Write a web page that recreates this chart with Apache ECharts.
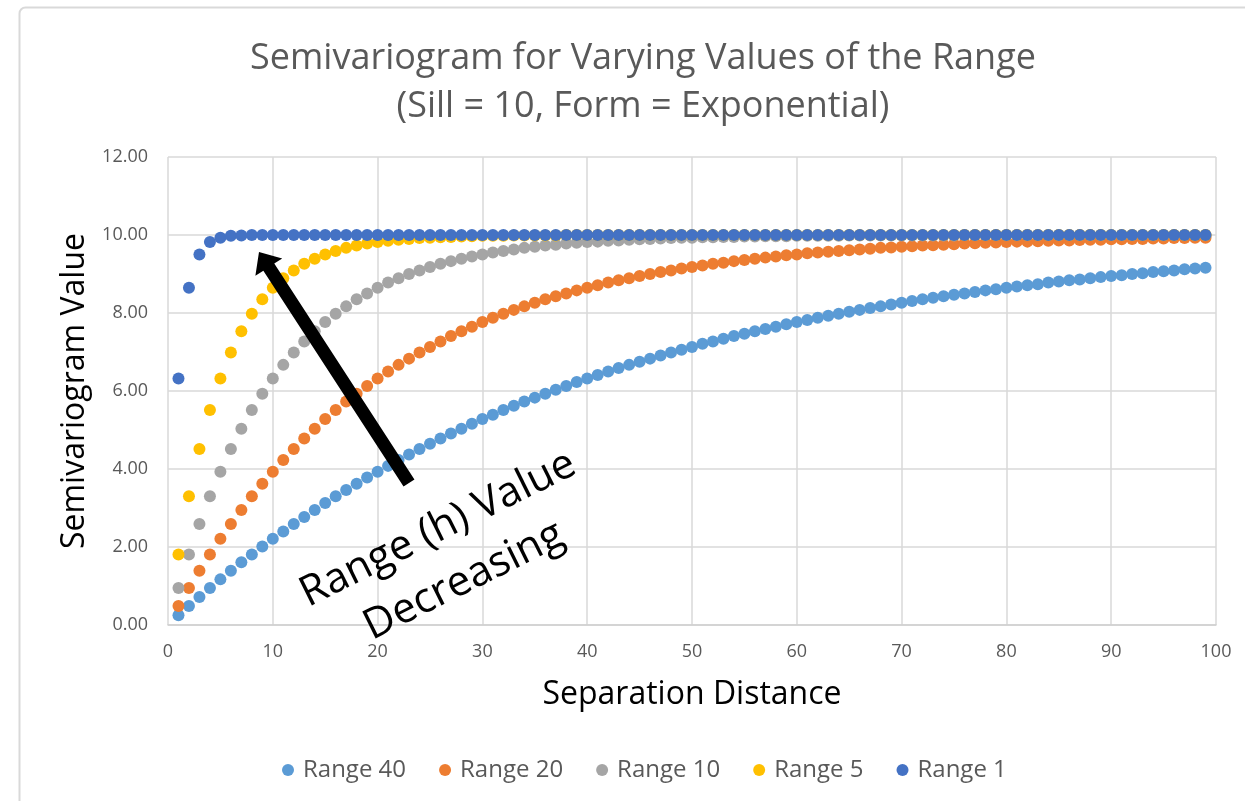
<!DOCTYPE html>
<html>
<head>
<meta charset="utf-8">
<script src="https://cdn.jsdelivr.net/npm/echarts@6/dist/echarts.min.js"></script>
<style>
  html, body { margin: 0; padding: 0; background: #fff; }
  #chart { width: 1245px; height: 801px; }
</style>
</head>
<body>
<div id="chart"></div>
<script>
// separation distance (h)
const distance = [
  1, 2, 3, 4, 5, 6, 7, 8, 9, 10,
  11, 12, 13, 14, 15, 16, 17, 18, 19, 20,
  21, 22, 23, 24, 25, 26, 27, 28, 29, 30,
  31, 32, 33, 34, 35, 36, 37, 38, 39, 40,
  41, 42, 43, 44, 45, 46, 47, 48, 49, 50,
  51, 52, 53, 54, 55, 56, 57, 58, 59, 60,
  61, 62, 63, 64, 65, 66, 67, 68, 69, 70,
  71, 72, 73, 74, 75, 76, 77, 78, 79, 80,
  81, 82, 83, 84, 85, 86, 87, 88, 89, 90,
  91, 92, 93, 94, 95, 96, 97, 98, 99,
]

const range40 = [
  0.25, 0.49, 0.72, 0.95, 1.17, 1.39, 1.61, 1.81, 2.01, 2.21,
  2.40, 2.59, 2.77, 2.95, 3.13, 3.30, 3.46, 3.62, 3.78, 3.93,
  4.08, 4.23, 4.37, 4.51, 4.65, 4.78, 4.91, 5.03, 5.16, 5.28,
  5.39, 5.51, 5.62, 5.73, 5.83, 5.93, 6.03, 6.13, 6.23, 6.32,
  6.41, 6.50, 6.59, 6.67, 6.75, 6.83, 6.91, 6.99, 7.06, 7.13,
  7.21, 7.27, 7.34, 7.41, 7.47, 7.53, 7.59, 7.65, 7.71, 7.77,
  7.82, 7.88, 7.93, 7.98, 8.03, 8.08, 8.13, 8.17, 8.22, 8.26,
  8.31, 8.35, 8.39, 8.43, 8.47, 8.50, 8.54, 8.58, 8.61, 8.65,
  8.68, 8.71, 8.74, 8.78, 8.81, 8.84, 8.86, 8.89, 8.92, 8.95,
  8.97, 9.00, 9.02, 9.05, 9.07, 9.09, 9.12, 9.14, 9.16,
]

const range20 = [
  0.49, 0.95, 1.39, 1.81, 2.21, 2.59, 2.95, 3.30, 3.62, 3.93,
  4.23, 4.51, 4.78, 5.03, 5.28, 5.51, 5.73, 5.93, 6.13, 6.32,
  6.50, 6.67, 6.83, 6.99, 7.13, 7.27, 7.41, 7.53, 7.65, 7.77,
  7.88, 7.98, 8.08, 8.17, 8.26, 8.35, 8.43, 8.50, 8.58, 8.65,
  8.71, 8.78, 8.84, 8.89, 8.95, 9.00, 9.05, 9.09, 9.14, 9.18,
  9.22, 9.26, 9.29, 9.33, 9.36, 9.39, 9.42, 9.45, 9.48, 9.50,
  9.53, 9.55, 9.57, 9.59, 9.61, 9.63, 9.65, 9.67, 9.68, 9.70,
  9.71, 9.73, 9.74, 9.75, 9.76, 9.78, 9.79, 9.80, 9.81, 9.82,
  9.83, 9.83, 9.84, 9.85, 9.86, 9.86, 9.87, 9.88, 9.88, 9.89,
  9.89, 9.90, 9.90, 9.91, 9.91, 9.92, 9.92, 9.93, 9.93,
]

const range10 = [
  0.95, 1.81, 2.59, 3.30, 3.93, 4.51, 5.03, 5.51, 5.93, 6.32,
  6.67, 6.99, 7.27, 7.53, 7.77, 7.98, 8.17, 8.35, 8.50, 8.65,
  8.78, 8.89, 9.00, 9.09, 9.18, 9.26, 9.33, 9.39, 9.45, 9.50,
  9.55, 9.59, 9.63, 9.67, 9.70, 9.73, 9.75, 9.78, 9.80, 9.82,
  9.83, 9.85, 9.86, 9.88, 9.89, 9.90, 9.91, 9.92, 9.93, 9.93,
  9.94, 9.94, 9.95, 9.95, 9.96, 9.96, 9.97, 9.97, 9.97, 9.98,
  9.98, 9.98, 9.98, 9.98, 9.99, 9.99, 9.99, 9.99, 9.99, 9.99,
  9.99, 9.99, 9.99, 9.99, 9.99, 10.00, 10.00, 10.00, 10.00, 10.00,
  10.00, 10.00, 10.00, 10.00, 10.00, 10.00, 10.00, 10.00, 10.00, 10.00,
  10.00, 10.00, 10.00, 10.00, 10.00, 10.00, 10.00, 10.00, 10.00,
]

const range5 = [
  1.81, 3.30, 4.51, 5.51, 6.32, 6.99, 7.53, 7.98, 8.35, 8.65,
  8.89, 9.09, 9.26, 9.39, 9.50, 9.59, 9.67, 9.73, 9.78, 9.82,
  9.85, 9.88, 9.90, 9.92, 9.93, 9.94, 9.95, 9.96, 9.97, 9.98,
  9.98, 9.98, 9.99, 9.99, 9.99, 9.99, 9.99, 10.00, 10.00, 10.00,
  10.00, 10.00, 10.00, 10.00, 10.00, 10.00, 10.00, 10.00, 10.00, 10.00,
  10.00, 10.00, 10.00, 10.00, 10.00, 10.00, 10.00, 10.00, 10.00, 10.00,
  10.00, 10.00, 10.00, 10.00, 10.00, 10.00, 10.00, 10.00, 10.00, 10.00,
  10.00, 10.00, 10.00, 10.00, 10.00, 10.00, 10.00, 10.00, 10.00, 10.00,
  10.00, 10.00, 10.00, 10.00, 10.00, 10.00, 10.00, 10.00, 10.00, 10.00,
  10.00, 10.00, 10.00, 10.00, 10.00, 10.00, 10.00, 10.00, 10.00,
]

const range1 = [
  6.32, 8.65, 9.50, 9.82, 9.93, 9.98, 9.99, 10.00, 10.00, 10.00,
  10.00, 10.00, 10.00, 10.00, 10.00, 10.00, 10.00, 10.00, 10.00, 10.00,
  10.00, 10.00, 10.00, 10.00, 10.00, 10.00, 10.00, 10.00, 10.00, 10.00,
  10.00, 10.00, 10.00, 10.00, 10.00, 10.00, 10.00, 10.00, 10.00, 10.00,
  10.00, 10.00, 10.00, 10.00, 10.00, 10.00, 10.00, 10.00, 10.00, 10.00,
  10.00, 10.00, 10.00, 10.00, 10.00, 10.00, 10.00, 10.00, 10.00, 10.00,
  10.00, 10.00, 10.00, 10.00, 10.00, 10.00, 10.00, 10.00, 10.00, 10.00,
  10.00, 10.00, 10.00, 10.00, 10.00, 10.00, 10.00, 10.00, 10.00, 10.00,
  10.00, 10.00, 10.00, 10.00, 10.00, 10.00, 10.00, 10.00, 10.00, 10.00,
  10.00, 10.00, 10.00, 10.00, 10.00, 10.00, 10.00, 10.00, 10.00,
]

const seriesNames = ['Range 40', 'Range 20', 'Range 10', 'Range 5', 'Range 1']
const seriesValues = [range40, range20, range10, range5, range1]
const colors = ['#5b9bd5', '#ed7d31', '#a5a5a5', '#ffc000', '#4472c4']

const FONT = '"Open Sans", "Liberation Sans", sans-serif'
const GRID_COLOR = '#d9d9d9'

// annotation arrow: tail -> tip, in pixels
const arrowTail = [409, 483]
const arrowTip = [259, 252]
function arrowPoints(tail, tip, halfShaft, headLen, halfHead) {
  const dx = tip[0] - tail[0], dy = tip[1] - tail[1]
  const len = Math.hypot(dx, dy)
  const ux = dx / len, uy = dy / len
  const nx = -uy, ny = ux
  const bx = tip[0] - ux * headLen, by = tip[1] - uy * headLen
  return [
    [tail[0] + nx * halfShaft, tail[1] + ny * halfShaft],
    [bx + nx * halfShaft, by + ny * halfShaft],
    [bx + nx * halfHead, by + ny * halfHead],
    tip,
    [bx - nx * halfHead, by - ny * halfHead],
    [bx - nx * halfShaft, by - ny * halfShaft],
    [tail[0] - nx * halfShaft, tail[1] - ny * halfShaft],
  ]
}

const chart = echarts.init(document.getElementById('chart'))

chart.setOption({
  animation: false,
  backgroundColor: '#fff',
  title: {
    text: 'Semivariogram for Varying Values of the Range\n(Sill = 10, Form = Exponential)',
    left: 638,
    top: 30,
    textAlign: 'center',
    textStyle: {
      fontFamily: FONT,
      fontSize: 36,
      fontWeight: 'normal',
      color: '#595959',
      lineHeight: 48,
    },
  },
  legend: {
    data: seriesNames,
    left: 277,
    bottom: 14,
    icon: 'circle',
    itemWidth: 20,
    itemHeight: 12,
    itemGap: 33,
    textStyle: { fontFamily: FONT, fontSize: 24, color: '#595959' },
  },
  grid: {
    left: 168,
    right: 29,
    top: 157,
    bottom: 176,
  },
  xAxis: {
    type: 'value',
    min: 0,
    max: 100,
    interval: 10,
    name: 'Separation Distance',
    nameLocation: 'middle',
    nameGap: 54,
    nameTextStyle: { fontFamily: FONT, fontSize: 32, color: '#000' },
    axisLine: { show: true, lineStyle: { color: '#cfcfcf', width: 1.5 } },
    axisTick: { show: false },
    axisLabel: { fontFamily: FONT, fontSize: 18, color: '#595959', margin: 18 },
    splitLine: { show: true, lineStyle: { color: GRID_COLOR, width: 1.5 } },
  },
  yAxis: {
    type: 'value',
    min: 0,
    max: 12,
    interval: 2,
    name: 'Semivariogram Value',
    nameLocation: 'middle',
    nameGap: 71,
    nameTextStyle: { fontFamily: FONT, fontSize: 32, color: '#000' },
    axisLine: { show: false },
    axisTick: { show: false },
    axisLabel: {
      fontFamily: FONT,
      fontSize: 18,
      color: '#595959',
      margin: 20,
      formatter: v => v.toFixed(2),
    },
    splitLine: { show: true, lineStyle: { color: GRID_COLOR, width: 1.5 } },
  },
  graphic: [
    {
      type: 'rect',
      z: -10,
      silent: true,
      shape: { x: 19.5, y: 7.5, width: 1400, height: 1000, r: 6 },
      style: { fill: 'none', stroke: '#d9d9d9', lineWidth: 2 },
    },
    {
      type: 'polygon',
      z: 100,
      silent: true,
      shape: { points: arrowPoints(arrowTail, arrowTip, 6.5, 18, 16) },
      style: { fill: '#000' },
    },
    {
      type: 'text',
      z: 100,
      silent: true,
      x: 451,
      y: 555,
      rotation: 26.5 * Math.PI / 180,
      style: {
        text: 'Range (h) Value\nDecreasing',
        fontFamily: FONT,
        fontSize: 42,
        lineHeight: 58,
        fill: '#000',
        align: 'center',
        verticalAlign: 'middle',
      },
    },
  ],
  series: seriesNames.map((name, i) => ({
    name,
    type: 'scatter',
    symbol: 'circle',
    symbolSize: 12,
    itemStyle: { color: colors[i], opacity: 1 },
    data: distance.map((d, j) => [d, seriesValues[i][j]]),
  })),
})
</script>
</body>
</html>
